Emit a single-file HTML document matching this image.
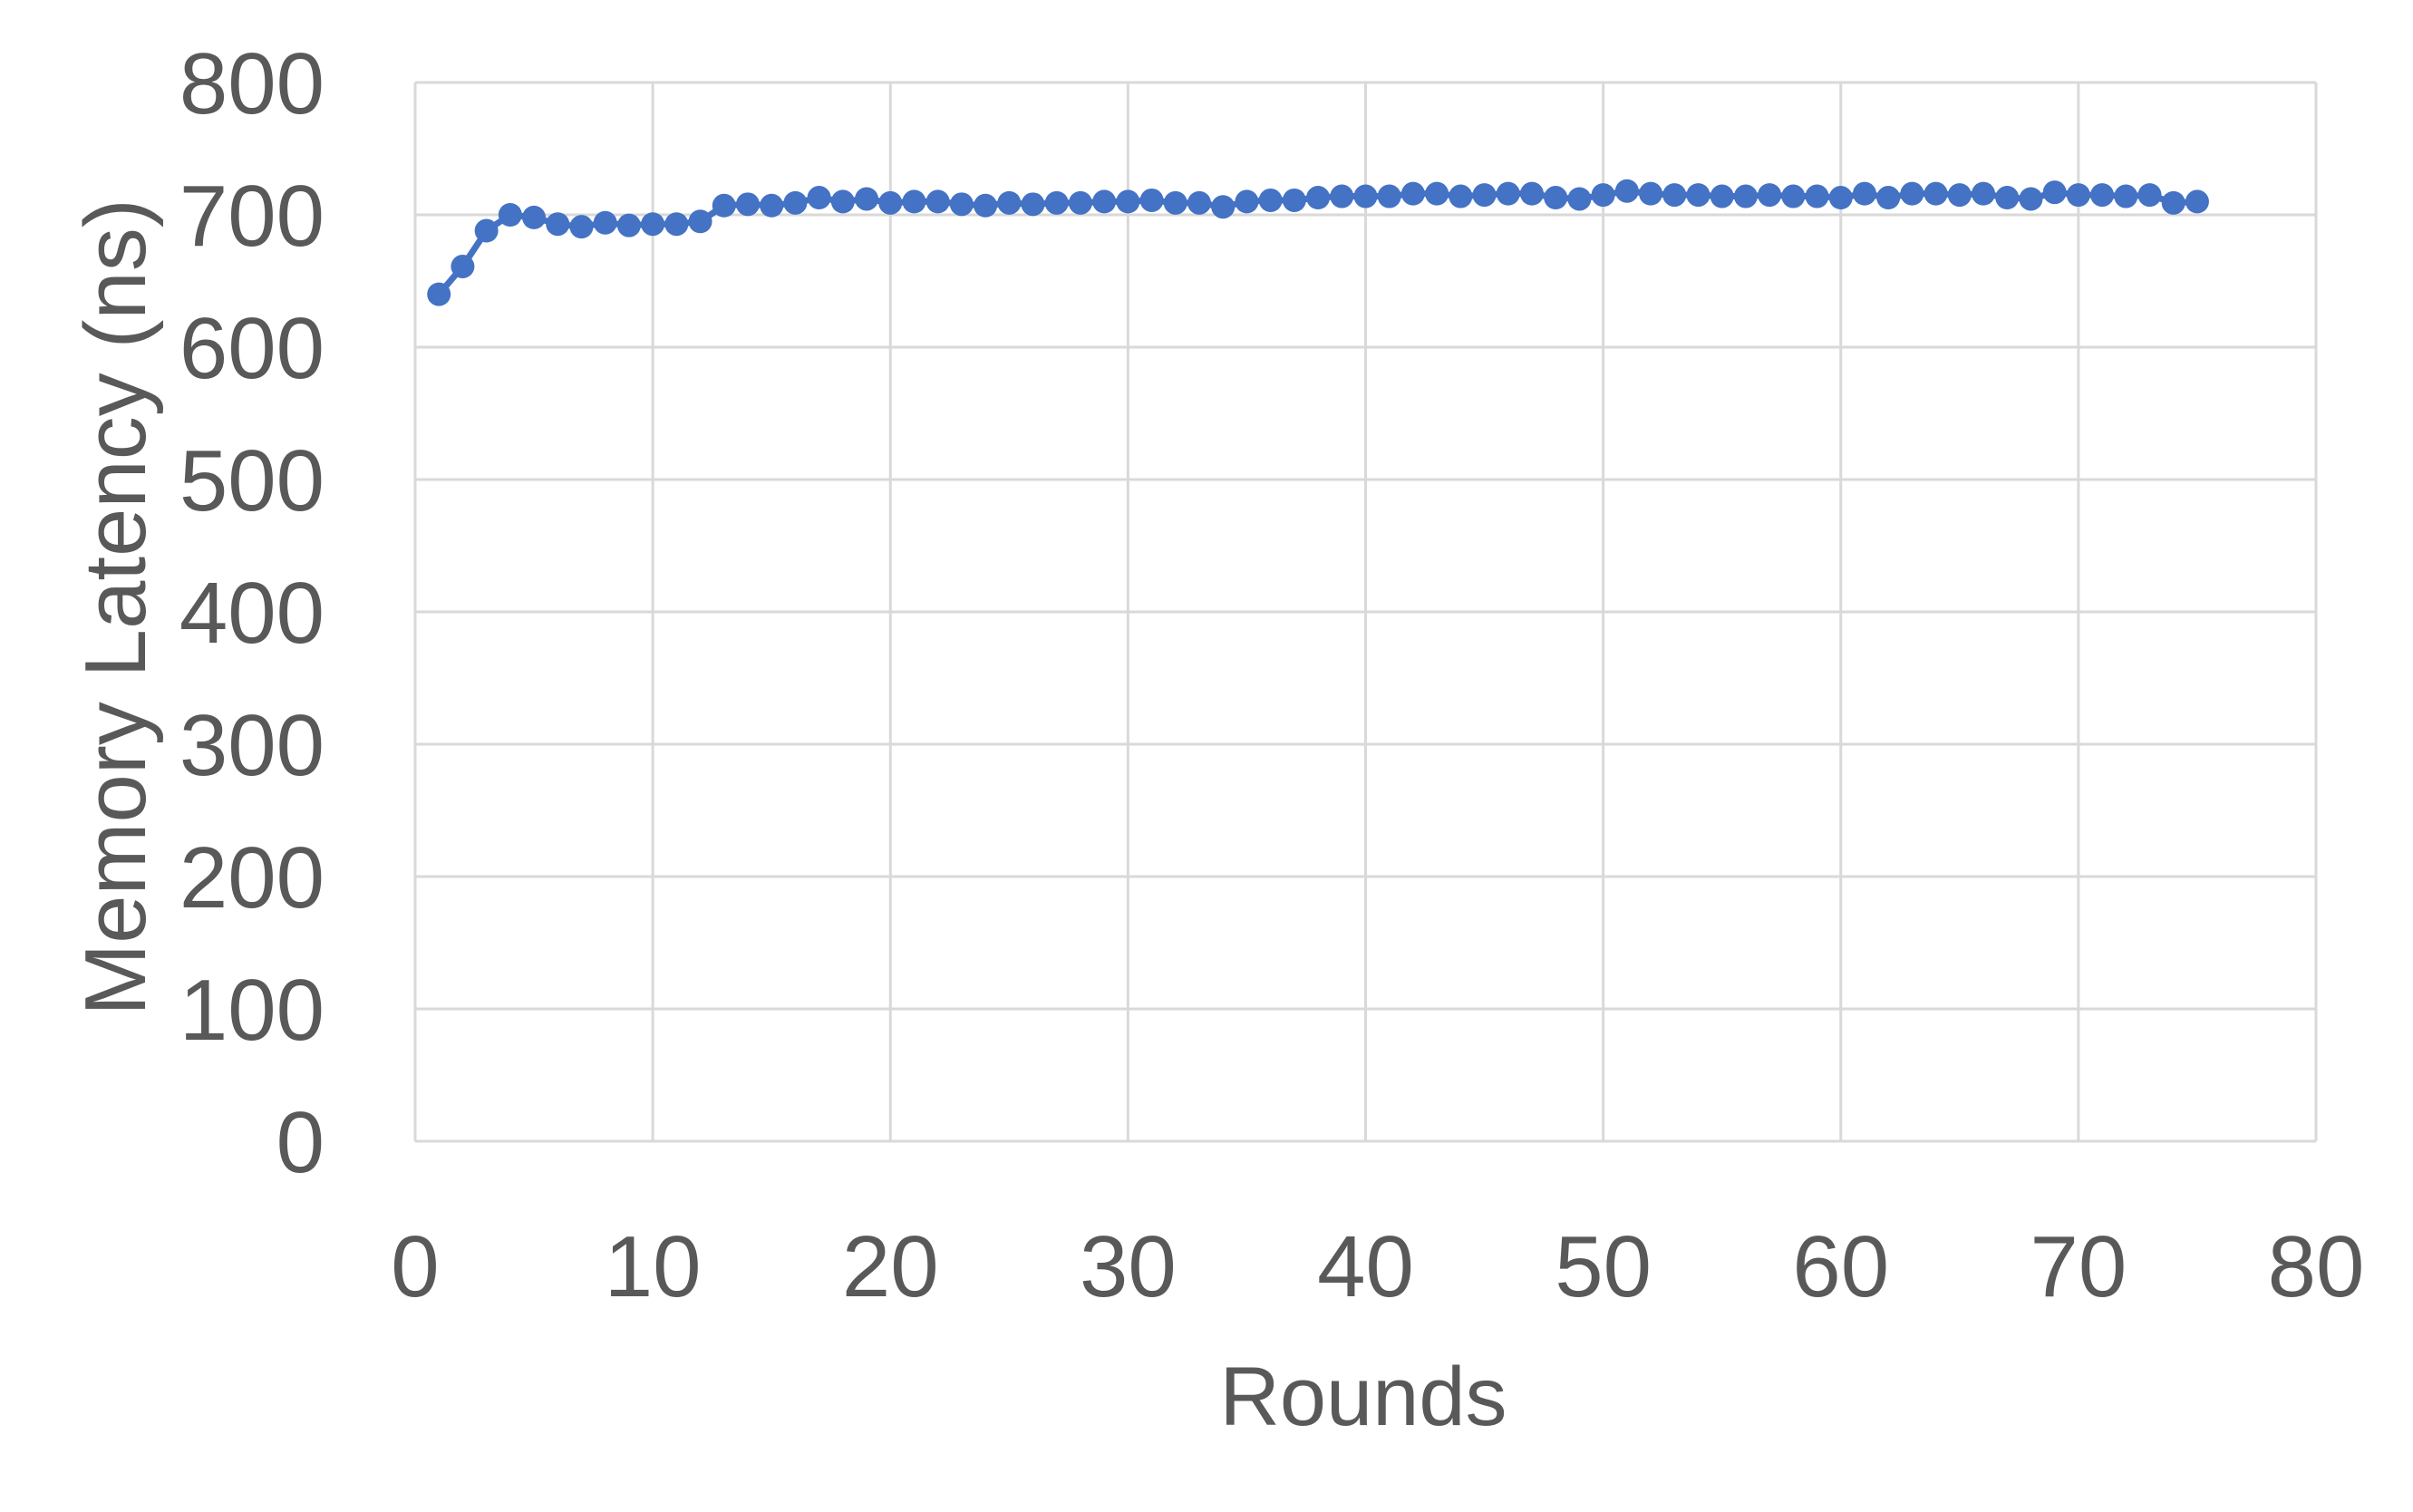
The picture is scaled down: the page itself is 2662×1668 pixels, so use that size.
<!DOCTYPE html>
<html><head><meta charset="utf-8"><style>
html,body{margin:0;padding:0;background:#fff;}
svg text{font-family:"Liberation Sans",sans-serif;fill:#595959;}
</style></head><body>
<svg id="chart" width="2662" height="1663" viewBox="0 0 2662 1663" xmlns="http://www.w3.org/2000/svg">
<g id="grid"></g><g id="axes"></g><g id="series"></g>
<text x="1504" y="1572" font-size="92" text-anchor="middle">Rounds</text>
<text transform="translate(160,670) rotate(-90)" font-size="96" text-anchor="middle">Memory Latency (ns)</text>
</svg>
<script>
const rounds = Array.from({length:75},(_,i)=>i+1);
const latency = [640,661,688,700,698,693,691,694,692,693,693,695,707,708,707,709,713,710,712,709,710,710,708,707,709,708,709,709,710,710,711,709,709,706,710,711,711,713,714,714,714,716,716,714,715,716,716,713,712,715,718,716,715,715,714,714,715,714,714,713,716,713,716,716,715,716,713,712,717,715,715,714,715,709,710];
const yTicks = [0,100,200,300,400,500,600,700,800];
const xTicks = [0,10,20,30,40,50,60,70,80];
const L=458,R=2555,T=91,B=1259;
const xs=v=>L+(v-0)/80*(R-L);
const ys=v=>B-(v/800)*(B-T);
const NS='http://www.w3.org/2000/svg';
function mk(tag,attrs,parent){const e=document.createElementNS(NS,tag);for(const k in attrs)e.setAttribute(k,attrs[k]);parent.appendChild(e);return e;}
const grid=document.getElementById('grid'),axes=document.getElementById('axes'),ser=document.getElementById('series');
yTicks.forEach(v=>{
  const l=mk('line',{x1:L,x2:R,y1:ys(v),y2:ys(v),stroke:'#d9d9d9','stroke-width':3},grid);
  
  
  const t=mk('text',{x:358,y:ys(v)+34,'font-size':96,'text-anchor':'end'},axes);
  t.textContent=v;
  
  
});
xTicks.forEach(v=>{
  const l=mk('line',{x1:xs(v),x2:xs(v),y1:T,y2:B,stroke:'#d9d9d9','stroke-width':3},grid);
  
  
  const t=mk('text',{x:xs(v),y:1430,'font-size':96,'text-anchor':'middle'},axes);
  t.textContent=v;
  
  
});
const pts=rounds.map((r,i)=>xs(r)+','+ys(latency[i])).join(' ');
const pl=mk('polyline',{points:pts,fill:'none',stroke:'#4472C4','stroke-width':7,'stroke-linejoin':'round'},ser);


rounds.forEach((r,i)=>{
  const c=mk('circle',{cx:xs(r),cy:ys(latency[i]),r:13,fill:'#4472C4'},ser);
  
  
});
</script>
</body></html>
